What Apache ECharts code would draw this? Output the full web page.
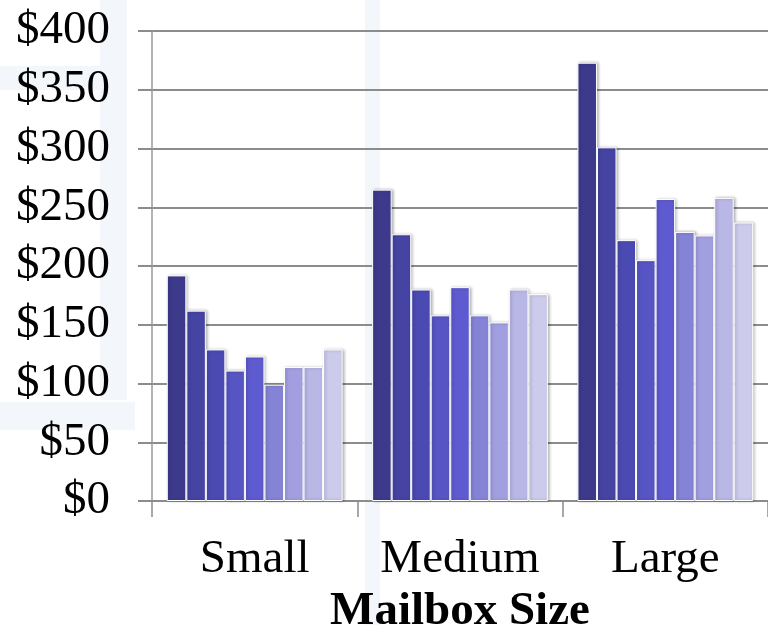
<!DOCTYPE html>
<html>
<head>
<meta charset="utf-8">
<style>
  html, body { margin: 0; padding: 0; background: #ffffff; }
  #chart { width: 768px; height: 625px; }
</style>
<script src="https://cdn.jsdelivr.net/npm/echarts@6/dist/echarts.min.js"></script>
</head>
<body>
<div id="chart"></div>
<script>
// Mailbox size groups on the category axis
const categories = ['Small', 'Medium', 'Large'];

// Nine series per mailbox size, in dollars
const series1 = [192, 265, 373];
const series2 = [162, 227, 301];
const series3 = [129, 180, 222];
const series4 = [111, 158, 205];
const series5 = [123, 182, 257];
const series6 = [99, 158, 229];
const series7 = [114, 152, 226];
const series8 = [114, 180, 258];
const series9 = [129, 176, 237];

// Value axis ticks
const yTicks = [0, 50, 100, 150, 200, 250, 300, 350, 400];

const seriesValues = [series1, series2, series3, series4, series5, series6, series7, series8, series9];
const palette = ['#3d3a8c', '#4544a3', '#4b4ab3', '#5655c3', '#5e5bd0',
                 '#8583d6', '#a19fe0', '#b9b7e6', '#cccbec'];

const chart = echarts.init(document.getElementById('chart'), null, { renderer: 'canvas' });

const serif = '"Liberation Serif", "DejaVu Serif", serif';
const bandColor = '#f3f6fa';

chart.setOption({
  backgroundColor: '#ffffff',
  animation: false,
  graphic: [
    // faint decorative bands behind the plot
    { type: 'rect', z: -10, silent: true, shape: { x: 100, y: 0, width: 27, height: 400 }, style: { fill: bandColor } },
    { type: 'rect', z: -10, silent: true, shape: { x: 0, y: 66, width: 100, height: 24 }, style: { fill: bandColor } },
    { type: 'rect', z: -10, silent: true, shape: { x: 0, y: 402, width: 135, height: 28 }, style: { fill: bandColor } },
    { type: 'rect', z: -10, silent: true, shape: { x: 365, y: 0, width: 15, height: 625 }, style: { fill: bandColor } }
  ],
  grid: { left: 152, right: 0, top: 31, bottom: 124, containLabel: false, outerBoundsMode: 'none' },
  xAxis: {
    type: 'category',
    data: categories,
    boundaryGap: true,
    name: 'Mailbox Size',
    nameLocation: 'middle',
    nameGap: 83,
    nameTextStyle: { fontFamily: serif, fontSize: 47, fontWeight: 'bold', color: '#000' },
    axisLine: { show: true, lineStyle: { color: '#8c8c8c', width: 2 } },
    axisTick: { show: true, interval: 0, alignWithLabel: false, length: 16, lineStyle: { color: '#8c8c8c', width: 1.5 } },
    axisLabel: { fontFamily: serif, fontSize: 47, color: '#000', margin: 35, interval: 0, hideOverlap: false },
    splitLine: { show: false }
  },
  yAxis: {
    type: 'value',
    min: yTicks[0],
    max: yTicks[yTicks.length - 1],
    interval: yTicks[1] - yTicks[0],
    axisLine: { show: true, lineStyle: { color: '#9a9a9a', width: 1.5 } },
    axisTick: { show: true, length: 14, lineStyle: { color: '#8c8c8c', width: 2 } },
    axisLabel: {
      fontFamily: serif, fontSize: 47, color: '#000', margin: 42,
      formatter: v => '$' + v
    },
    splitLine: { show: true, lineStyle: { color: '#8c8c8c', width: 2 } }
  },
  series: seriesValues.map((vals, i) => ({
    name: 'S' + (i + 1),
    type: 'bar',
    data: vals,
    barGap: '0%',
    barCategoryGap: '14.4%',
    itemStyle: {
      color: palette[i],
      borderColor: '#ffffff',
      borderWidth: 1,
      shadowColor: 'rgba(0,0,0,0.28)',
      shadowBlur: 3,
      shadowOffsetX: 1.5,
      shadowOffsetY: 0
    }
  }))
});
</script>
</body>
</html>
